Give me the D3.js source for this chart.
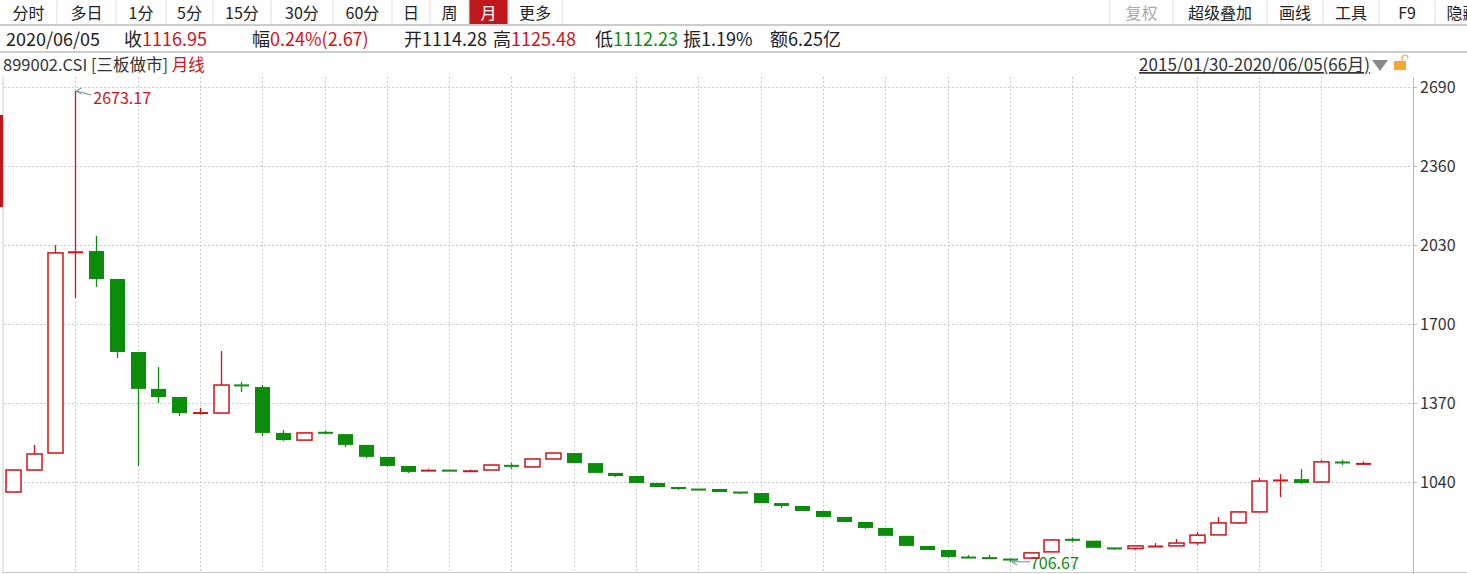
<!DOCTYPE html>
<html><head><meta charset="utf-8">
<script src="https://cdn.jsdelivr.net/npm/d3@7/dist/d3.min.js"></script>
<style>body{margin:0;background:#fff;overflow:hidden}svg{display:block;font-family:"Noto Sans CJK SC","Noto Sans",sans-serif}</style>
</head><body><svg id="c" width="1467" height="574"></svg>
<script>
const opens  = [998,1090,1161,1998,2005,1888,1583,1429,1395,1326,1328,1447,1437,1245,1215,1247,1240,1195,1145,1107,1083,1090,1083,1090,1110,1103,1136,1161,1119,1078,1065,1036,1019,1011,1011,998,994,952,940,919,894,873,848,815,773,756,727,724,718,722,748,800,795,765,762,768,773,786,819,869,915,1044,1052,1040,1124,1114.28];
const closes = [1090,1157,1997,2001,1888,1583,1429,1395,1328,1330,1445,1440,1245,1215,1245,1244,1195,1145,1107,1082,1092,1085,1087,1111,1105,1136,1161,1119,1078,1065,1036,1019,1011,1006,998,994,952,940,919,894,873,848,815,773,756,727,722,720,714,744,798,797,765,760,773,773,785,818,869,915,1044,1049,1036,1124,1119,1116.95];
const highs  = [1090,1195,2030,2673.17,2068,1888,1583,1520,1395,1349,1587,1458,1445,1257,1245,1253,1240,1195,1145,1107,1096,1090,1092,1111,1120,1136,1161,1161,1119,1078,1065,1036,1019,1011,1011,998,994,952,940,919,894,873,848,815,773,756,735,735,718,745,802,808,795,765,773,785,802,831,894,915,1057,1073,1094,1132,1132,1125.48];
const lows   = [998,1090,1161,1809,1855,1558,1107,1370,1316,1322,1328,1416,1232,1211,1213,1240,1186,1140,1103,1078,1083,1085,1083,1090,1095,1103,1136,1119,1078,1061,1036,1019,1007,1006,998,990,952,932,919,894,873,844,815,773,756,723,722,720,706.67,722,748,790,765,757,757,768,773,777,819,865,915,977,1032,1040,1111,1112.23];
const yTicks = [2690,2360,2030,1700,1370,1040];
const leftTabs = ["分时","多日","1分","5分","15分","30分","60分","日","周","月","更多"];
const rightTabs = ["复权","超级叠加","画线","工具","F9","隐藏"];
const infoItems = [["","2020/06/05","#222"],["收","1116.95","R"],["幅","0.24%(2.67)","R"],["开","1114.28","#222"],["高","1125.48","R"],["低","1112.23","G"],["振","1.19%","#222"],["额","6.25亿","#222"]];

const RED="#d0121b", GREEN="#0b8c0b";
const svg=d3.select("#c");
const lx=[0,57,116,166,213,271,333,392,430,469,508,562];
leftTabs.forEach((t,i)=>{
  if(t==="月") svg.append("rect").attr("x",lx[i]).attr("y",0).attr("width",lx[i+1]-lx[i]).attr("height",24).attr("fill","#c0171d");
  svg.append("text").attr("x",(lx[i]+lx[i+1])/2).attr("y",19).attr("text-anchor","middle").attr("font-size",16)
    .attr("fill",t==="月"?"#fff":"#222").text(t);
  if(i>0) svg.append("line").attr("x1",lx[i]).attr("x2",lx[i]).attr("y1",0).attr("y2",24).attr("stroke","#ddd");
});
svg.append("line").attr("x1",lx[11]).attr("x2",lx[11]).attr("y1",0).attr("y2",24).attr("stroke","#ddd");
const rx=[1110,1173,1267,1323,1379,1435,1490];
rightTabs.forEach((t,i)=>{
  svg.append("text").attr("x",(rx[i]+rx[i+1])/2).attr("y",19).attr("text-anchor","middle").attr("font-size",16)
    .attr("fill",i===0?"#aaa":"#222").text(t);
  svg.append("line").attr("x1",rx[i]).attr("x2",rx[i]).attr("y1",0).attr("y2",24).attr("stroke","#ddd");
});
svg.append("rect").attr("x",0).attr("y",24).attr("width",1467).attr("height",2).attr("fill","#ccc");
const ix=[6,124,252,404,493,595,683,770];
infoItems.forEach(([k,v,c],i)=>{
  const t=svg.append("text").attr("x",ix[i]).attr("y",46).attr("font-size",18).attr("fill","#222");
  if(k) t.append("tspan").text(k);
  t.append("tspan").attr("fill",c==="R"?RED:c==="G"?GREEN:c).text(v);
});
svg.append("rect").attr("x",0).attr("y",51).attr("width",1467).attr("height",2).attr("fill","#ccc");
const title=svg.append("text").attr("x",3).attr("y",71).attr("font-size",16.5).attr("fill","#333");
title.append("tspan").text("899002.CSI [三板做市] ");
title.append("tspan").attr("fill",RED).text("月线");
svg.append("text").attr("x",1370).attr("y",71).attr("text-anchor","end").attr("font-size",17).attr("fill","#333")
  .attr("text-decoration","underline").text("2015/01/30-2020/06/05(66月)");
svg.append("path").attr("d","M1372,60 L1388,60 L1380,71 Z").attr("fill","#888");
svg.append("rect").attr("x",1394).attr("y",61).attr("width",12).attr("height",9).attr("fill","#f0a830");
svg.append("path").attr("d","M1402,61 v-3 a3,3 0 0 1 6,0").attr("fill","none").attr("stroke","#f0a830").attr("stroke-width",1.2);
svg.append("line").attr("x1",3).attr("x2",3).attr("y1",77).attr("y2",574).attr("stroke","#ccc");
svg.append("rect").attr("x",0).attr("y",115).attr("width",3).attr("height",92).attr("fill","#c0171d");
svg.append("line").attr("x1",1413.5).attr("x2",1413.5).attr("y1",77).attr("y2",574).attr("stroke","#bbb");
svg.append("line").attr("x1",3).attr("x2",1467).attr("y1",572.5).attr("y2",572.5).attr("stroke","#ccc");

const y=d3.scaleLinear().domain([2690,1040]).range([87,482]);
const x=d3.scaleLinear().domain([0,65]).range([13,1363]);
yTicks.forEach(v=>svg.append("line").attr("x1",4).attr("x2",1413).attr("y1",Math.round(y(v))+.5).attr("y2",Math.round(y(v))+.5)
  .attr("stroke","#ccc").attr("stroke-dasharray","2,2"));
d3.range(3,66,3).forEach(i=>svg.append("line").attr("x1",Math.round(x(i))+.5).attr("x2",Math.round(x(i))+.5).attr("y1",77).attr("y2",572)
  .attr("stroke","#ccc").attr("stroke-dasharray","2,2"));
const ax=svg.append("g").attr("transform","translate(1413,0)").call(d3.axisRight(y).tickValues(yTicks).tickSize(4).tickFormat(d3.format("d")));
ax.select(".domain").remove();
ax.selectAll("line").attr("stroke","#bbb");
ax.selectAll("text").attr("font-size",16).attr("fill","#333").attr("font-family",'"Noto Sans CJK SC",sans-serif');
const data=opens.map((o,i)=>({i,o,c:closes[i],h:highs[i],l:lows[i]}));
const bw=15;
const g=svg.append("g");
data.forEach(d=>{
  const up=d.c>=d.o, col=up?RED:GREEN, cx=Math.round(x(d.i))+.5;
  const top=y(Math.max(d.o,d.c)), bot=y(Math.min(d.o,d.c));
  g.append("line").attr("x1",cx).attr("x2",cx).attr("y1",y(d.h)).attr("y2",top).attr("stroke",col).attr("stroke-width",1.3);
  g.append("line").attr("x1",cx).attr("x2",cx).attr("y1",bot).attr("y2",y(d.l)).attr("stroke",col).attr("stroke-width",1.3);
  const hgt=bot-top;
  if(hgt<2.5){
    g.append("line").attr("x1",cx-bw/2).attr("x2",cx+bw/2).attr("y1",(top+bot)/2).attr("y2",(top+bot)/2).attr("stroke",col).attr("stroke-width",2);
  } else {
    g.append("rect").attr("x",cx-bw/2).attr("y",top).attr("width",bw).attr("height",hgt)
      .attr("fill",up?"#fff":col).attr("stroke",col).attr("stroke-width",up?1.5:0);
  }
});
const hx=x(3), hy=y(2673.17);
svg.append("path").attr("d",`M${hx+1},${hy} l5,-3 M${hx+1},${hy} l5,3 M${hx+1},${hy} L${hx+16},${hy+4}`).attr("stroke","#5a8fa0").attr("fill","none");
svg.append("text").attr("x",hx+18).attr("y",hy+13).attr("font-size",16).attr("fill",RED).text("2673.17");
const lx2=x(48), ly=y(706.67);
svg.append("path").attr("d",`M${lx2+2},${ly} l5,-3 M${lx2+2},${ly} l5,3 M${lx2+2},${ly} L${lx2+20},${ly}`).attr("stroke","#5a8fa0").attr("fill","none");
svg.append("text").attr("x",lx2+20).attr("y",ly+7).attr("font-size",16).attr("fill",GREEN).text("706.67");
</script></body></html>
